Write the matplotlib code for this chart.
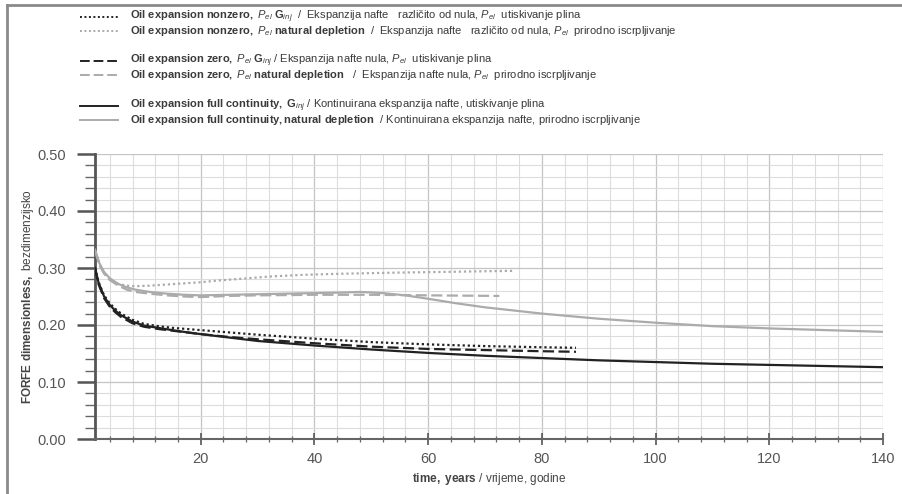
import matplotlib
matplotlib.use("Agg")
import matplotlib.pyplot as plt
from matplotlib import font_manager as fm
from matplotlib.lines import Line2D
from matplotlib.ticker import MultipleLocator, FormatStrFormatter

names = {f.name for f in fm.fontManager.ttflist}
NARROW = 'Liberation Sans Narrow' if 'Liberation Sans Narrow' in names else 'Liberation Sans'
REG = 'Liberation Sans'

plt.rcParams['mathtext.fontset'] = 'custom'
plt.rcParams['mathtext.rm'] = NARROW
plt.rcParams['mathtext.it'] = NARROW + ':italic'
plt.rcParams['mathtext.bf'] = NARROW + ':bold'

# ---------------- data ----------------
x_full_inj = [1.4, 2, 3, 4, 5, 6, 8, 10, 12.5, 15, 17, 20, 25, 30, 40, 50, 60, 70, 80, 90, 100, 110, 120, 130, 140]
y_full_inj = [0.300, 0.275, 0.250, 0.235, 0.225, 0.217, 0.206, 0.199, 0.195, 0.191, 0.188, 0.184, 0.178, 0.172,
              0.164, 0.157, 0.151, 0.146, 0.142, 0.138, 0.135, 0.132, 0.130, 0.128, 0.126]

x_zero_inj = [1.4, 2, 3, 4, 5, 6, 8, 10, 12.5, 15, 20, 25, 30, 40, 50, 60, 70, 80, 86]
y_zero_inj = [0.300, 0.272, 0.247, 0.232, 0.222, 0.214, 0.203, 0.197, 0.193, 0.190, 0.184, 0.179, 0.175,
              0.168, 0.162, 0.158, 0.156, 0.154, 0.153]

x_nonzero_inj = [1.4, 2, 3, 4, 5, 6, 8, 10, 12.5, 15, 20, 25, 30, 40, 50, 60, 70, 80, 86]
y_nonzero_inj = [0.300, 0.276, 0.252, 0.238, 0.228, 0.220, 0.209, 0.202, 0.198, 0.195, 0.191, 0.187, 0.183,
                 0.176, 0.170, 0.166, 0.163, 0.161, 0.160]

x_full_nat = [1.4, 2.2, 3, 4, 5.5, 7, 8.5, 11, 14, 17, 20, 25, 30, 35, 40, 45, 48, 52, 56, 60, 65, 70, 80, 90,
              100, 110, 120, 130, 140]
y_full_nat = [0.332, 0.308, 0.293, 0.282, 0.272, 0.266, 0.262, 0.258, 0.255, 0.253, 0.252, 0.253, 0.254, 0.255,
              0.256, 0.257, 0.258, 0.256, 0.252, 0.246, 0.238, 0.231, 0.220, 0.211, 0.204, 0.198, 0.194, 0.191, 0.188]

x_zero_nat = [1.4, 2.2, 3, 4, 5.5, 7, 8.5, 11, 14, 17, 20, 25, 30, 40, 50, 60, 72.5]
y_zero_nat = [0.330, 0.305, 0.290, 0.279, 0.269, 0.262, 0.258, 0.255, 0.252, 0.250, 0.249, 0.251, 0.252,
              0.253, 0.253, 0.252, 0.251]

x_nonzero_nat = [1.4, 2.2, 3, 4, 5.5, 7, 8.5, 11, 14, 17, 20, 23, 27, 32, 38, 45, 50, 55, 62, 68, 75]
y_nonzero_nat = [0.330, 0.306, 0.291, 0.280, 0.272, 0.269, 0.268, 0.269, 0.271, 0.273, 0.275, 0.278, 0.281,
                 0.285, 0.288, 0.290, 0.291, 0.292, 0.293, 0.294, 0.295]

y_ticks = [0.0, 0.1, 0.2, 0.3, 0.4, 0.5]
x_ticks = [20, 40, 60, 80, 100, 120, 140]

legend_labels = [
    r"$\mathbf{Oil\ expansion\ nonzero,\ }\mathit{P}_{el}\ \mathbf{G}_{inj}$  /  Ekspanzija nafte   različito od nula, $\mathit{P}_{el}$  utiskivanje plina",
    r"$\mathbf{Oil\ expansion\ nonzero,\ }\mathit{P}_{el}\ \mathbf{natural\ depletion}$  /  Ekspanzija nafte   različito od nula, $\mathit{P}_{el}$  prirodno iscrpljivanje",
    r"$\mathbf{Oil\ expansion\ zero,\ }\mathit{P}_{el}\ \mathbf{G}_{inj}$ / Ekspanzija nafte nula, $\mathit{P}_{el}$  utiskivanje plina",
    r"$\mathbf{Oil\ expansion\ zero,\ }\mathit{P}_{el}\ \mathbf{natural\ depletion}$   /  Ekspanzija nafte nula, $\mathit{P}_{el}$  prirodno iscrpljivanje",
    r"$\mathbf{Oil\ expansion\ full\ continuity,\ G}_{inj}$ / Kontinuirana ekspanzija nafte, utiskivanje plina",
    r"$\mathbf{Oil\ expansion\ full\ continuity,natural\ depletion}$  / Kontinuirana ekspanzija nafte, prirodno iscrpljivanje",
]

BLACK = '#222222'
GRAY = '#ababab'
DOT = (0, (1, 1.3))
DASH = (0, (5, 2))
styles = [
    (x_nonzero_inj, y_nonzero_inj, BLACK, DOT),
    (x_nonzero_nat, y_nonzero_nat, GRAY, DOT),
    (x_zero_inj, y_zero_inj, BLACK, DASH),
    (x_zero_nat, y_zero_nat, GRAY, DASH),
    (x_full_inj, y_full_inj, BLACK, '-'),
    (x_full_nat, y_full_nat, GRAY, '-'),
]

# ---------------- figure ----------------
W, H = 903, 494
fig = plt.figure(figsize=(W / 100, H / 100), dpi=100)
fig.patch.set_facecolor('white')

def fx(px):
    return px / W

def fy(py):
    return 1 - py / H

ax = fig.add_axes([fx(95), fy(439), fx(883) - fx(95), fy(154) - fy(439)])
ax.set_xlim(1.4, 140)
ax.set_ylim(0, 0.5)

ax.xaxis.set_major_locator(MultipleLocator(20))
ax.xaxis.set_minor_locator(MultipleLocator(4))
ax.yaxis.set_major_locator(MultipleLocator(0.1))
ax.yaxis.set_minor_locator(MultipleLocator(0.02))
ax.yaxis.set_major_formatter(FormatStrFormatter('%.2f'))
ax.set_xticks(x_ticks)
ax.set_yticks(y_ticks)

ax.grid(which='major', color='#c4c4c4', lw=0.9, zorder=0)
ax.grid(which='minor', color='#dcdcdc', lw=0.8, zorder=0)
ax.set_axisbelow(True)

for s in ['top', 'right']:
    ax.spines[s].set_visible(False)
ax.spines['left'].set_color('#555555')
ax.spines['left'].set_linewidth(2)
ax.spines['bottom'].set_color('#666666')
ax.spines['bottom'].set_linewidth(1.5)

ax.tick_params(axis='y', which='major', direction='out', length=13, width=1.8, color='#555555',
               labelsize=10.5, labelcolor='#555555', pad=8)
ax.tick_params(axis='y', which='minor', direction='out', length=7, width=1.0, color='#666666')
ax.tick_params(axis='x', which='major', direction='inout', length=8, width=1.2, color='#555555',
               labelsize=10.5, labelcolor='#555555', pad=5)
ax.tick_params(axis='x', which='minor', direction='inout', length=5, width=0.9, color='#666666')
for lab in ax.get_yticklabels():
    lab.set_family(REG)
for lab in ax.get_xticklabels():
    lab.set_family(NARROW)

for xs, ys, c, ls in styles:
    ax.plot(xs, ys, color=c, linestyle=ls, lw=1.6, zorder=3)

ax.set_xlabel(r"$\mathbf{time,\ years}$ / vrijeme, godine", family=NARROW, fontsize=8.5,
              color='#444444', labelpad=4)
ax.set_ylabel(r"$\mathbf{FORFE\ dimensionless,}$ bezdimenzijsko", family=NARROW, fontsize=8.5,
              color='#444444', labelpad=1)

# legend (manual)
rows_y = [17, 31, 61, 75, 106, 120]
for (xs, ys, c, ls), label, ry in zip(styles, legend_labels, rows_y):
    fig.add_artist(Line2D([fx(80), fx(118)], [fy(ry), fy(ry)], color=c, linestyle=ls, lw=1.4))
    fig.text(fx(130), fy(ry), label, family=NARROW, fontsize=8.0, color='#3a3a3a', va='center', ha='left')

# border lines (top and left)
fig.add_artist(Line2D([fx(7), 1.0], [fy(5.5), fy(5.5)], color='#8a8a8a', lw=2))
fig.add_artist(Line2D([fx(7), fx(7)], [fy(5.5), 0.0], color='#8a8a8a', lw=2))

fig.savefig('out.png', dpi=100, facecolor='white')
